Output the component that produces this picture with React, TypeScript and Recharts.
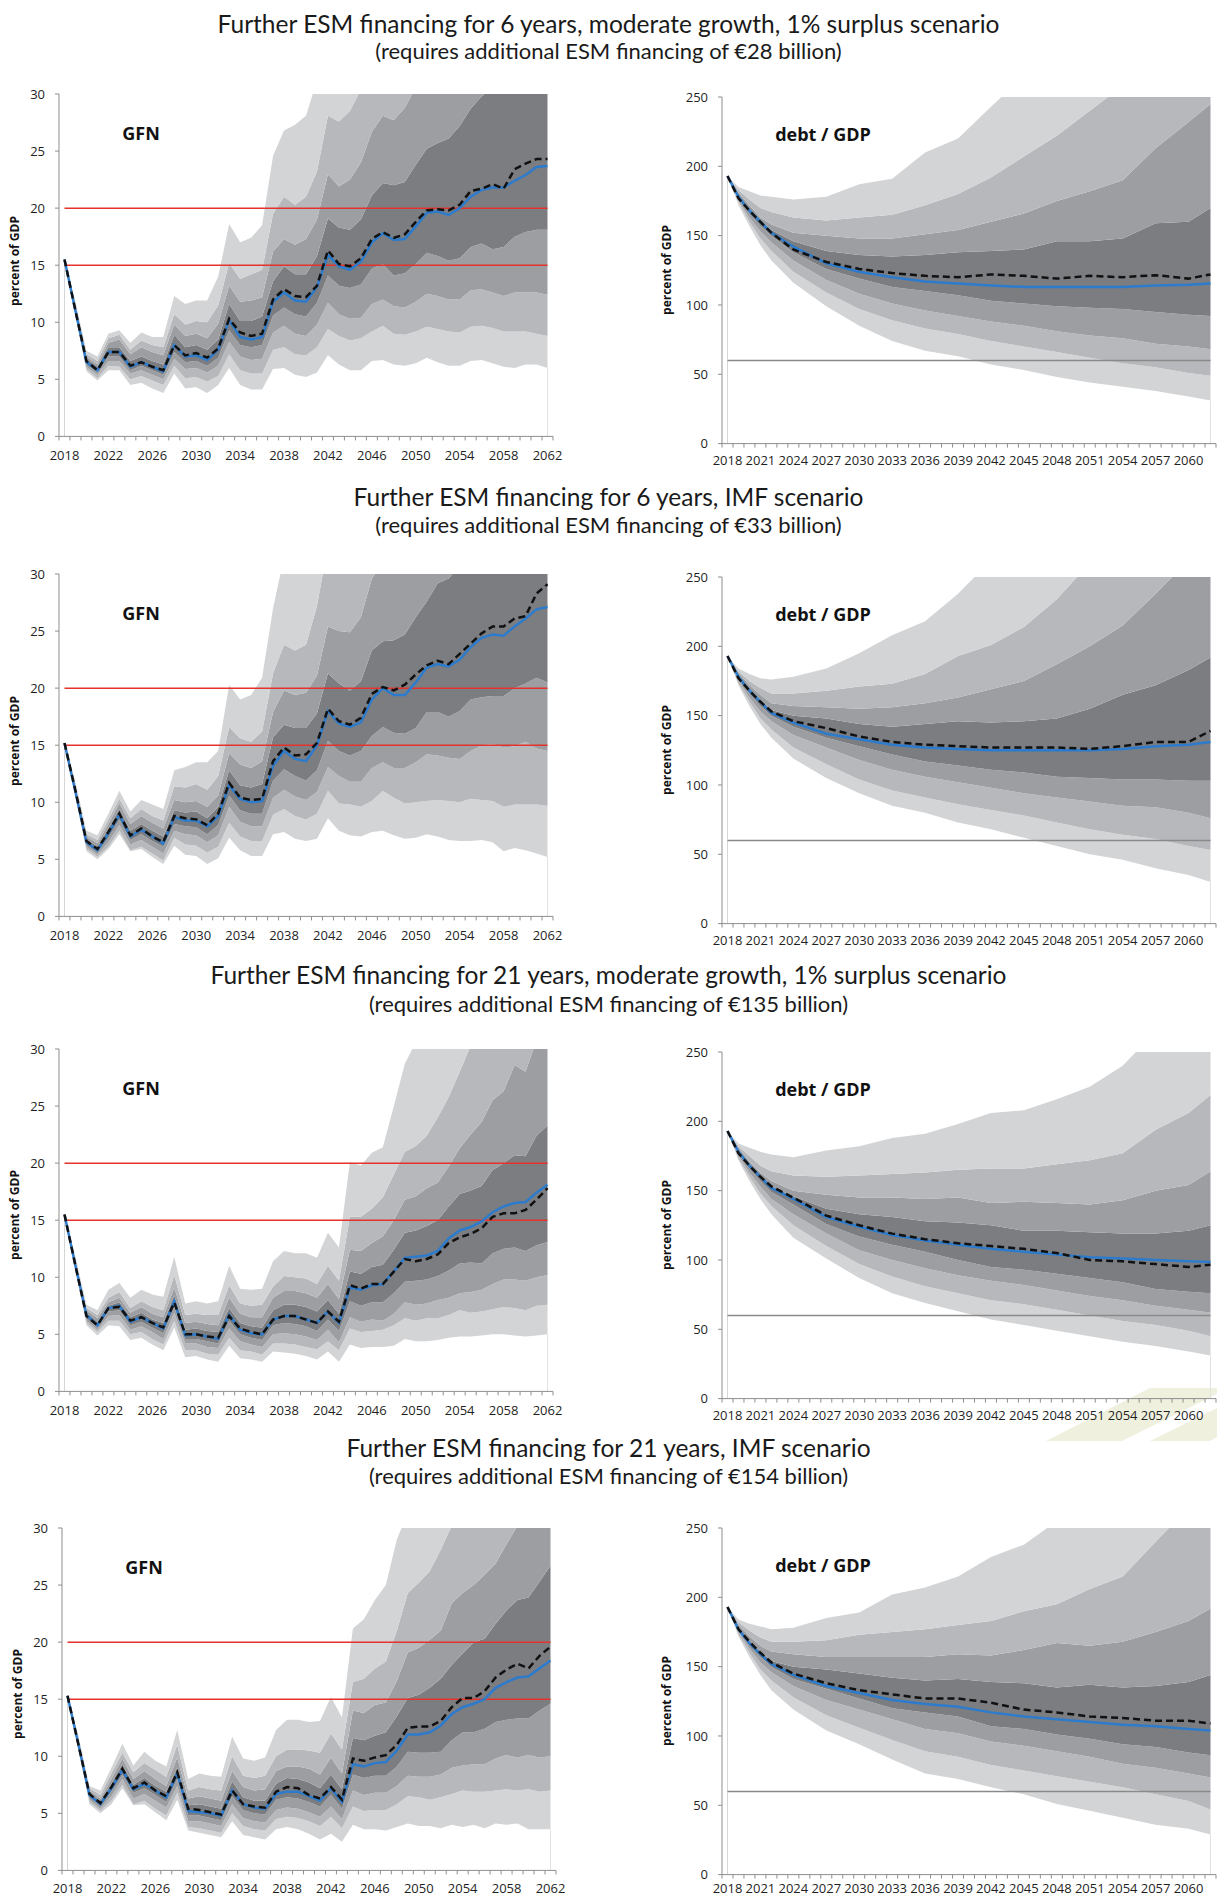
import React from "react";
import { ComposedChart, Area, Line, XAxis, YAxis, ReferenceLine } from "recharts";

const FONT = "'Open Sans', 'DejaVu Sans', sans-serif";
const TITLE_FONT = "Lato, 'Open Sans', sans-serif";
const AXIS = "#8e8e8e";
const TXT = "#1f1f1f";
const SHADES = ["#d3d4d6", "#b6b8bb", "#9c9ea1", "#7c7d81", "#9c9ea1", "#b6b8bb", "#d3d4d6"];
const PLOT_W = 494;

// ---- categories / ticks ----
const gfnYears = [
  2018, 2019, 2020, 2021, 2022, 2023, 2024, 2025, 2026, 2027,
  2028, 2029, 2030, 2031, 2032, 2033, 2034, 2035, 2036, 2037,
  2038, 2039, 2040, 2041, 2042, 2043, 2044, 2045, 2046, 2047,
  2048, 2049, 2050, 2051, 2052, 2053, 2054, 2055, 2056, 2057,
  2058, 2059, 2060, 2061, 2062,
];
const debtYears = [2018, 2019, 2020, 2021, 2022, 2024, 2027, 2030, 2033, 2036, 2039, 2042, 2045, 2048, 2051, 2054, 2057, 2060, 2062];
const gfnXLabels = [2018, 2022, 2026, 2030, 2034, 2038, 2042, 2046, 2050, 2054, 2058, 2062];
const debtXLabels = [2018, 2021, 2024, 2027, 2030, 2033, 2036, 2039, 2042, 2045, 2048, 2051, 2054, 2057, 2060];
const gfnYTicks = [0, 5, 10, 15, 20, 25, 30];
const debtYTicks = [0, 50, 100, 150, 200, 250];
const gfnThresholds = [15, 20];
const debtThresholds = [60];

const titles = [
  "Further ESM financing for 6 years, moderate growth, 1% surplus scenario",
  "Further ESM financing for 6 years, IMF scenario",
  "Further ESM financing for 21 years, moderate growth, 1% surplus scenario",
  "Further ESM financing for 21 years, IMF scenario",
];
const subtitles = [
  "(requires additional ESM financing of €28 billion)",
  "(requires additional ESM financing of €33 billion)",
  "(requires additional ESM financing of €135 billion)",
  "(requires additional ESM financing of €154 billion)",
];

// ---- GFN scenario 1 ----
const g1Med = [15.5, 11.0, 6.5, 5.8, 7.4, 7.4, 6.1, 6.5, 6.1, 5.7, 8.0, 7.0, 7.1, 6.7, 7.6, 10.2, 8.7, 8.5, 8.7, 11.8, 12.6, 11.9, 11.8, 13.1, 15.9, 14.9, 14.6, 15.3, 17.0, 17.8, 17.2, 17.3, 18.4, 19.6, 19.7, 19.4, 20.0, 21.0, 21.6, 21.8, 21.8, 22.4, 22.9, 23.6, 23.7];
const g1Base = [15.5, 11.0, 6.6, 5.8, 7.4, 7.4, 6.2, 6.5, 6.1, 5.8, 8.0, 7.1, 7.3, 6.9, 7.7, 10.3, 9.1, 8.8, 9.0, 12.0, 12.9, 12.3, 12.2, 13.2, 16.3, 15.1, 14.9, 15.6, 17.3, 17.9, 17.4, 17.7, 18.8, 19.8, 19.9, 19.8, 20.3, 21.5, 21.7, 22.1, 21.7, 23.4, 23.9, 24.3, 24.3];
const g1L4 = [15.5, 10.6, 5.7, 4.9, 5.8, 5.8, 4.5, 4.7, 4.2, 3.8, 5.5, 4.2, 4.3, 3.8, 4.5, 6.0, 4.5, 4.1, 4.1, 5.9, 6.0, 5.4, 5.2, 5.6, 7.1, 6.3, 5.8, 5.8, 6.6, 6.7, 6.3, 6.2, 6.4, 6.9, 6.5, 6.2, 6.2, 6.6, 6.7, 6.4, 6.1, 6.0, 6.3, 6.3, 6.0];
const g1L3 = [15.5, 10.8, 5.9, 5.1, 6.2, 6.1, 5.0, 5.3, 4.9, 4.5, 6.2, 5.1, 5.2, 4.8, 5.3, 7.2, 5.8, 5.5, 5.5, 7.6, 7.8, 7.2, 7.1, 7.8, 9.4, 8.8, 8.4, 8.6, 9.2, 9.7, 9.0, 8.9, 9.2, 9.6, 9.4, 9.2, 9.1, 9.6, 9.7, 9.5, 9.2, 9.2, 9.2, 9.0, 8.8];
const g1L2 = [15.5, 10.9, 6.1, 5.4, 6.6, 6.6, 5.5, 5.8, 5.4, 5.0, 6.8, 5.9, 6.0, 5.6, 6.2, 8.3, 7.0, 6.7, 6.8, 9.1, 9.7, 9.0, 8.8, 9.8, 11.7, 10.7, 10.3, 10.4, 11.6, 12.0, 11.4, 11.3, 11.8, 12.5, 12.3, 12.0, 12.0, 12.8, 12.9, 12.6, 12.3, 12.6, 12.6, 12.6, 12.4];
const g1L1 = [15.5, 11.0, 6.3, 5.6, 7.0, 7.0, 5.8, 6.2, 5.8, 5.4, 7.4, 6.5, 6.6, 6.2, 6.9, 9.3, 8.0, 7.8, 8.0, 10.6, 11.3, 10.7, 10.5, 11.7, 14.1, 13.2, 13.0, 13.3, 14.7, 15.1, 14.1, 14.3, 15.1, 16.1, 15.8, 15.4, 15.6, 16.6, 16.9, 16.4, 16.6, 17.5, 17.9, 18.1, 18.1];
const g1U1 = [15.5, 11.1, 6.8, 6.1, 7.8, 7.8, 6.6, 7.0, 6.6, 6.3, 8.9, 7.8, 8.0, 7.6, 8.5, 11.6, 10.1, 10.1, 10.5, 13.6, 14.9, 14.2, 14.2, 15.8, 19.1, 18.3, 18.1, 19.0, 21.1, 22.2, 22.0, 22.3, 23.8, 25.2, 25.7, 26.1, 27.2, 28.7, 29.8, 30.6, 31.4, 32.5, 33.1, 34.0, 34.6];
const g1U2 = [15.5, 11.3, 7.0, 6.3, 8.2, 8.5, 7.2, 7.8, 7.4, 7.1, 9.8, 8.8, 9.0, 8.6, 9.9, 13.2, 11.8, 11.9, 12.2, 16.2, 17.3, 16.8, 17.3, 19.0, 23.0, 21.9, 22.5, 24.0, 26.7, 28.1, 27.7, 28.8, 30.6, 32.4, 33.5, 34.1, 35.6, 37.9, 39.0, 39.8, 40.5, 42.3, 43.0, 44.1, 44.8];
const g1U3 = [15.5, 11.5, 7.2, 6.6, 8.6, 8.9, 7.6, 8.4, 8.0, 7.8, 10.7, 9.8, 10.1, 10.0, 11.5, 15.2, 13.8, 14.2, 14.6, 19.5, 21.0, 20.3, 21.0, 23.2, 28.1, 27.6, 28.5, 30.4, 33.5, 35.2, 35.0, 36.4, 38.5, 40.6, 41.8, 42.5, 44.2, 47.0, 48.3, 49.1, 50.0, 52.1, 53.0, 54.2, 55.0];
const g1U4 = [15.5, 11.8, 7.5, 7.0, 9.0, 9.3, 8.2, 9.1, 8.7, 8.7, 12.3, 11.6, 11.9, 11.9, 14.0, 18.6, 17.0, 17.4, 18.5, 24.6, 26.8, 27.3, 28.1, 31.2, 36.5, 36.0, 37.2, 39.6, 43.5, 45.7, 45.4, 47.2, 49.9, 52.6, 54.2, 55.1, 57.3, 60.9, 62.6, 63.6, 64.8, 67.5, 68.7, 70.2, 71.2];

// ---- GFN scenario 2 ----
const g2Med = [15.2, 10.9, 6.5, 5.8, 7.3, 8.9, 7.0, 7.6, 7.0, 6.4, 8.7, 8.4, 8.4, 7.9, 8.8, 11.5, 10.3, 10.0, 10.1, 13.2, 14.5, 13.8, 13.6, 15.0, 18.0, 16.9, 16.6, 17.0, 19.0, 20.0, 19.4, 19.4, 20.5, 21.8, 22.1, 21.9, 22.5, 23.6, 24.4, 24.7, 24.6, 25.4, 26.1, 26.9, 27.1];
const g2Base = [15.2, 11.0, 6.6, 5.9, 7.4, 9.0, 7.1, 7.7, 7.0, 6.5, 8.8, 8.6, 8.5, 8.0, 9.0, 11.7, 10.4, 10.2, 10.3, 13.6, 14.8, 14.1, 14.2, 15.2, 18.2, 17.1, 16.8, 17.4, 19.5, 20.1, 19.8, 20.3, 21.2, 22.0, 22.4, 22.1, 23.0, 23.9, 24.8, 25.4, 25.4, 26.1, 26.3, 28.3, 29.1];
const g2L4 = [15.2, 10.5, 5.7, 5.0, 5.9, 7.2, 5.7, 5.9, 5.2, 4.6, 6.2, 5.4, 5.3, 4.6, 5.1, 6.9, 5.8, 5.3, 5.3, 7.2, 7.4, 6.8, 6.6, 6.8, 8.6, 7.5, 7.1, 7.0, 7.4, 7.5, 7.1, 6.8, 6.9, 7.2, 7.0, 6.7, 6.6, 6.6, 6.7, 6.5, 5.7, 6.0, 5.8, 5.5, 5.2];
const g2L3 = [15.2, 10.7, 5.9, 5.2, 6.1, 7.5, 5.8, 6.1, 5.5, 4.9, 6.9, 6.3, 6.2, 5.6, 6.1, 8.2, 7.0, 6.6, 6.6, 8.9, 9.4, 8.8, 8.5, 9.0, 11.0, 9.9, 9.8, 9.6, 10.1, 11.0, 10.4, 9.9, 10.0, 10.1, 10.2, 10.1, 10.0, 10.3, 10.2, 10.1, 9.6, 9.8, 9.8, 9.8, 9.7];
const g2L2 = [15.2, 10.8, 6.1, 5.4, 6.5, 8.0, 6.3, 6.7, 6.1, 5.5, 7.5, 7.2, 7.1, 6.5, 7.1, 9.6, 8.3, 7.9, 7.9, 10.4, 11.1, 10.5, 10.2, 10.9, 13.1, 12.3, 11.8, 11.8, 13.0, 13.5, 13.0, 13.0, 13.5, 14.2, 14.1, 13.9, 13.8, 14.5, 15.0, 15.1, 14.8, 14.9, 15.3, 14.7, 14.5];
const g2L1 = [15.2, 10.9, 6.3, 5.6, 6.9, 8.5, 6.7, 7.2, 6.6, 6.1, 8.1, 7.9, 7.8, 7.2, 8.0, 10.6, 9.3, 9.0, 9.0, 11.9, 12.9, 12.3, 11.9, 12.8, 15.4, 14.5, 14.1, 14.5, 15.8, 16.6, 16.1, 16.0, 16.5, 17.9, 17.9, 17.5, 18.0, 19.0, 19.2, 19.3, 19.3, 20.0, 20.4, 20.9, 20.5];
const g2U1 = [15.2, 11.1, 6.8, 6.1, 7.7, 9.4, 7.5, 8.1, 7.5, 7.0, 9.3, 9.1, 9.2, 8.6, 9.6, 12.8, 11.5, 11.3, 11.6, 15.7, 16.8, 16.5, 16.5, 17.8, 21.3, 20.4, 19.8, 20.6, 23.3, 24.1, 24.2, 24.7, 26.2, 27.6, 29.2, 29.6, 30.8, 32.4, 33.5, 34.1, 34.3, 35.6, 36.7, 38.0, 38.6];
const g2U2 = [15.2, 11.3, 7.0, 6.4, 8.1, 9.9, 8.1, 8.8, 8.2, 7.7, 10.2, 10.0, 10.1, 9.6, 10.6, 14.3, 13.3, 13.0, 13.6, 17.9, 19.8, 19.4, 19.6, 21.1, 25.4, 25.0, 24.9, 26.2, 29.6, 31.0, 31.2, 32.0, 34.1, 36.0, 38.1, 38.7, 40.3, 42.4, 43.9, 44.7, 45.0, 46.8, 48.3, 50.0, 50.9];
const g2U3 = [15.2, 11.5, 7.2, 6.7, 8.5, 10.3, 8.6, 9.4, 8.8, 8.4, 11.4, 11.3, 11.6, 11.1, 12.3, 16.6, 15.6, 15.3, 16.2, 21.3, 23.8, 23.3, 23.8, 27.2, 32.5, 32.1, 32.2, 34.0, 38.5, 40.3, 40.7, 41.8, 44.6, 47.1, 49.9, 50.7, 52.9, 55.7, 57.7, 58.8, 59.3, 61.7, 63.7, 66.0, 67.2];
const g2U4 = [15.2, 11.8, 7.5, 7.1, 9.0, 11.0, 9.2, 10.2, 9.8, 9.4, 12.8, 13.1, 13.5, 13.5, 14.5, 20.3, 19.0, 19.4, 20.9, 27.0, 31.5, 31.4, 32.2, 36.6, 43.7, 43.3, 43.6, 46.1, 52.3, 54.8, 55.5, 57.0, 60.9, 64.4, 68.3, 69.5, 72.6, 76.5, 79.3, 80.9, 81.7, 85.1, 87.9, 91.2, 92.9];

// ---- GFN scenario 3 ----
const g3Med = [15.5, 11.0, 6.7, 5.8, 7.3, 7.5, 6.1, 6.5, 6.0, 5.5, 7.9, 4.9, 5.0, 4.8, 4.6, 6.7, 5.4, 5.1, 5.0, 6.3, 6.6, 6.6, 6.3, 6.0, 7.0, 6.0, 9.1, 8.9, 9.3, 9.4, 10.5, 11.7, 11.8, 11.9, 12.3, 13.4, 14.1, 14.4, 14.9, 15.7, 16.2, 16.5, 16.6, 17.4, 18.1];
const g3Base = [15.5, 11.0, 6.6, 5.8, 7.3, 7.4, 6.2, 6.5, 6.0, 5.6, 7.8, 5.0, 5.0, 4.8, 4.7, 6.6, 5.5, 5.2, 5.0, 6.3, 6.6, 6.6, 6.3, 6.0, 7.0, 6.1, 9.3, 9.0, 9.4, 9.4, 10.5, 11.6, 11.4, 11.6, 12.0, 13.0, 13.5, 13.8, 14.3, 15.3, 15.6, 15.6, 15.9, 16.8, 17.8];
const g3L4 = [15.5, 10.6, 5.8, 4.9, 5.8, 5.7, 4.5, 4.7, 4.1, 3.6, 5.6, 3.0, 3.1, 2.8, 2.6, 4.0, 2.9, 2.8, 2.6, 3.5, 3.4, 3.3, 3.1, 2.8, 3.5, 2.6, 4.1, 3.8, 3.9, 3.9, 4.0, 4.6, 4.4, 4.4, 4.5, 4.7, 4.8, 4.8, 4.9, 5.0, 5.0, 4.9, 4.8, 4.9, 5.0];
const g3L3 = [15.5, 10.8, 6.0, 5.2, 6.2, 6.2, 5.0, 5.2, 4.6, 4.1, 6.2, 3.6, 3.6, 3.3, 3.2, 4.7, 3.6, 3.5, 3.2, 4.2, 4.2, 4.1, 3.9, 3.7, 4.4, 3.6, 5.5, 5.2, 5.3, 5.4, 5.8, 6.4, 6.2, 6.4, 6.4, 6.7, 7.1, 6.9, 7.0, 7.2, 7.4, 7.3, 7.1, 7.5, 7.6];
const g3L2 = [15.5, 10.9, 6.2, 5.4, 6.6, 6.7, 5.4, 5.7, 5.2, 4.6, 6.9, 4.2, 4.2, 3.9, 3.8, 5.5, 4.4, 4.1, 3.9, 5.0, 5.1, 5.0, 4.8, 4.5, 5.4, 4.3, 6.5, 6.1, 6.3, 6.2, 6.8, 7.8, 7.6, 7.7, 8.0, 8.2, 8.6, 8.7, 8.9, 9.4, 9.8, 9.8, 9.7, 10.0, 10.2];
const g3L1 = [15.5, 11.0, 6.4, 5.6, 7.0, 7.1, 5.8, 6.1, 5.6, 5.1, 7.4, 4.6, 4.6, 4.4, 4.2, 6.2, 5.0, 4.7, 4.5, 5.8, 6.0, 5.9, 5.7, 5.3, 6.3, 5.3, 7.9, 7.5, 7.8, 7.8, 8.6, 9.6, 9.7, 9.8, 10.1, 10.6, 11.2, 11.3, 11.2, 12.1, 12.5, 12.6, 12.3, 12.8, 13.1];
const g3U1 = [15.5, 11.1, 6.9, 6.1, 7.5, 7.8, 6.5, 6.9, 6.3, 6.0, 8.4, 5.4, 5.5, 5.3, 5.2, 7.3, 6.0, 5.7, 5.6, 7.1, 7.6, 7.6, 7.4, 7.0, 8.0, 6.8, 10.5, 10.3, 10.9, 11.1, 12.4, 13.9, 14.1, 14.5, 15.0, 16.2, 17.3, 17.6, 18.0, 19.4, 20.0, 20.7, 20.6, 22.4, 23.3];
const g3U2 = [15.5, 11.3, 7.1, 6.4, 7.8, 8.2, 6.9, 7.4, 6.8, 6.5, 9.1, 6.0, 6.1, 5.9, 5.8, 8.2, 6.8, 6.5, 6.5, 8.2, 8.8, 8.8, 8.6, 8.2, 9.4, 8.1, 12.4, 12.3, 13.0, 13.6, 15.0, 16.8, 17.1, 17.8, 18.3, 19.7, 21.3, 22.5, 23.6, 25.5, 26.3, 28.6, 28.0, 30.8, 32.5];
const g3U3 = [15.5, 11.5, 7.3, 6.7, 8.2, 8.7, 7.3, 7.9, 7.4, 7.1, 10.2, 6.7, 6.8, 6.7, 6.7, 9.3, 7.7, 7.5, 7.6, 9.2, 10.1, 10.0, 9.9, 9.4, 11.0, 9.7, 15.3, 15.3, 16.0, 17.0, 19.0, 21.0, 21.5, 22.4, 24.0, 25.8, 28.0, 30.3, 31.9, 34.2, 35.6, 38.1, 38.0, 40.8, 42.4];
const g3U4 = [15.5, 11.8, 7.6, 7.1, 8.9, 9.5, 8.2, 8.9, 8.5, 8.3, 11.8, 7.7, 7.9, 7.7, 7.9, 11.0, 9.0, 8.9, 9.0, 11.4, 12.3, 12.1, 12.1, 11.7, 13.9, 12.6, 20.1, 19.8, 20.9, 21.4, 25.0, 28.7, 30.6, 32.4, 35.0, 37.4, 40.3, 43.0, 45.2, 48.0, 49.9, 53.0, 53.1, 56.6, 58.6];

// ---- GFN scenario 4 ----
const g4Med = [15.3, 11.0, 6.6, 5.8, 7.2, 8.8, 7.1, 7.6, 7.0, 6.4, 8.5, 5.2, 5.1, 5.0, 4.8, 7.0, 5.8, 5.5, 5.4, 6.7, 6.9, 6.9, 6.5, 6.1, 7.2, 6.0, 9.3, 9.1, 9.4, 9.5, 10.5, 11.9, 11.9, 12.1, 12.7, 13.7, 14.3, 14.6, 15.0, 16.0, 16.5, 16.9, 17.0, 17.7, 18.4];
const g4Base = [15.3, 11.0, 6.7, 5.9, 7.3, 8.9, 7.2, 7.7, 7.0, 6.5, 8.6, 5.4, 5.3, 5.1, 4.9, 7.0, 5.8, 5.6, 5.5, 6.9, 7.3, 7.2, 6.6, 6.3, 7.3, 6.2, 9.8, 9.6, 9.9, 10.1, 11.0, 12.5, 12.6, 12.6, 13.1, 14.3, 15.1, 15.1, 15.7, 16.9, 17.6, 18.1, 17.7, 18.8, 19.6];
const g4L4 = [15.3, 10.6, 5.8, 5.0, 5.8, 7.2, 5.7, 5.8, 5.1, 4.4, 6.2, 3.5, 3.3, 3.1, 2.9, 4.3, 3.1, 2.9, 2.7, 3.6, 3.8, 3.6, 3.2, 2.7, 3.2, 2.5, 4.0, 3.6, 3.6, 3.5, 3.8, 4.1, 3.9, 3.9, 3.7, 4.0, 3.8, 4.0, 3.7, 4.1, 4.0, 4.1, 3.6, 3.6, 3.6];
const g4L3 = [15.3, 10.8, 6.0, 5.2, 6.1, 7.5, 5.8, 6.1, 5.4, 4.8, 6.8, 3.8, 3.7, 3.5, 3.3, 5.0, 3.9, 3.6, 3.5, 4.5, 4.7, 4.6, 4.3, 3.9, 4.7, 3.7, 5.6, 5.2, 5.3, 5.3, 5.8, 6.5, 6.4, 6.2, 6.4, 6.7, 7.0, 6.9, 6.9, 7.0, 7.1, 7.0, 7.1, 6.9, 7.0];
const g4L2 = [15.3, 10.9, 6.2, 5.4, 6.5, 8.0, 6.3, 6.7, 6.1, 5.5, 7.4, 4.3, 4.3, 4.1, 3.9, 5.8, 4.6, 4.3, 4.2, 5.3, 5.5, 5.4, 5.1, 4.7, 5.6, 4.5, 7.0, 6.6, 6.8, 6.8, 7.4, 8.3, 8.2, 8.2, 8.4, 9.0, 9.2, 9.3, 9.3, 9.8, 10.1, 9.9, 10.1, 9.9, 10.0];
const g4L1 = [15.3, 11.0, 6.4, 5.6, 6.9, 8.4, 6.8, 7.2, 6.6, 6.0, 8.0, 4.8, 4.8, 4.6, 4.4, 6.5, 5.3, 5.0, 4.9, 6.2, 6.4, 6.3, 6.0, 5.6, 6.6, 5.4, 8.4, 8.1, 8.3, 8.3, 9.1, 10.4, 10.3, 10.3, 10.4, 11.4, 12.1, 12.1, 12.4, 13.0, 13.2, 13.3, 13.3, 14.0, 14.6];
const g4U1 = [15.3, 11.1, 6.8, 6.1, 7.6, 9.3, 7.5, 8.1, 7.4, 6.9, 9.0, 5.7, 5.8, 5.6, 5.4, 7.8, 6.4, 6.1, 6.1, 7.6, 8.1, 8.0, 7.7, 7.2, 8.4, 7.1, 11.6, 11.4, 11.8, 12.1, 13.5, 15.1, 15.4, 16.0, 16.8, 18.0, 19.0, 20.0, 20.3, 21.6, 22.8, 23.7, 23.9, 25.3, 26.7];
const g4U2 = [15.3, 11.3, 7.0, 6.3, 8.0, 9.8, 8.0, 8.7, 8.0, 7.4, 9.9, 6.3, 6.5, 6.3, 6.1, 8.7, 7.3, 7.0, 7.1, 8.7, 9.1, 9.1, 8.9, 8.4, 9.9, 8.5, 14.0, 13.8, 14.5, 14.7, 16.6, 19.1, 19.5, 20.2, 21.0, 23.4, 24.3, 25.0, 25.9, 26.9, 28.6, 30.2, 31.0, 32.5, 34.0];
const g4U3 = [15.3, 11.5, 7.2, 6.6, 8.5, 10.3, 8.6, 9.4, 8.8, 8.2, 11.0, 7.0, 7.3, 7.1, 7.0, 10.0, 8.3, 8.1, 8.3, 10.0, 10.6, 10.6, 10.5, 10.3, 12.0, 10.6, 16.5, 16.8, 17.7, 18.3, 21.0, 24.3, 25.2, 26.2, 28.1, 30.2, 32.0, 33.6, 35.2, 37.9, 39.9, 41.6, 42.2, 44.5, 46.7];
const g4U4 = [15.3, 11.8, 7.4, 7.0, 9.0, 11.1, 9.2, 10.4, 9.6, 9.1, 12.3, 8.0, 8.5, 8.3, 8.2, 11.7, 9.8, 9.6, 9.9, 12.3, 13.2, 13.2, 13.0, 13.1, 15.2, 13.4, 21.2, 22.0, 23.7, 25.0, 29.0, 31.3, 32.6, 34.0, 36.5, 39.7, 41.6, 44.2, 45.8, 49.3, 51.9, 54.1, 54.9, 57.9, 60.7];

// ---- debt / GDP scenario 1 ----
const d1Med = [193, 178, 168, 160, 152, 142, 130, 124, 120, 117, 115.5, 114, 113, 113, 113, 113, 114, 114.5, 115.5];
const d1Base = [193, 177, 168, 160, 152, 140, 131, 126, 123, 121, 120, 122, 121, 119, 121, 120, 121.5, 119, 122];
const d1L4 = [193, 172, 157, 143, 132, 116, 99, 85, 74, 67, 63, 57, 53, 48, 44, 41, 38, 34, 31];
const d1L3 = [193, 174, 160, 148, 139, 124, 109, 97, 89, 83, 79, 74, 70, 66, 62, 58, 55, 51, 49];
const d1L2 = [193, 175, 163, 153, 145, 132, 118, 108, 101, 96, 92, 88, 85, 81, 78, 76, 72, 70, 68];
const d1L1 = [193, 176, 166, 157, 150, 138, 126, 119, 113, 110, 107, 103, 101, 99, 98, 97, 95, 93, 92];
const d1U1 = [193, 179, 169, 161, 154, 146, 139, 136, 135, 136, 138, 139, 140, 146, 146, 148, 159, 160, 170];
const d1U2 = [193, 181, 172, 163, 158, 152, 150, 148, 148, 151, 154, 160, 166, 175, 182, 190, 213, 232, 245];
const d1U3 = [193, 183, 176, 170, 167, 163, 161, 163, 165, 172, 180, 192, 207, 222, 240, 258, 280, 300, 315];
const d1U4 = [193, 185, 182, 179, 178, 176, 178, 187, 191, 210, 220, 243, 265, 290, 320, 350, 380, 410, 430];

// ---- debt / GDP scenario 2 ----
const d2Med = [193, 178, 168, 160, 152, 145, 137, 133, 129, 127, 126, 125, 125, 125, 125, 126, 128, 129, 131];
const d2Base = [193, 177, 168, 160, 153, 146, 141, 135, 131, 129, 128, 127, 127, 127, 126, 128, 131, 131, 139];
const d2L4 = [193, 172, 157, 144, 134, 119, 105, 94, 85, 80, 73, 68, 62, 56, 50, 46, 40, 35, 30];
const d2L3 = [193, 173, 160, 148, 140, 127, 115, 104, 96, 91, 86, 82, 78, 73, 68, 64, 61, 56, 53];
const d2L2 = [193, 175, 163, 153, 146, 136, 127, 118, 111, 106, 102, 98, 94, 91, 88, 85, 84, 80, 76];
const d2L1 = [193, 176, 166, 157, 150, 142, 134, 128, 122, 117, 114, 111, 109, 106, 105, 104, 104, 103, 103];
const d2U1 = [193, 179, 169, 161, 154, 150, 148, 144, 142, 144, 146, 145, 146, 148, 155, 165, 172, 183, 192];
const d2U2 = [193, 181, 172, 165, 159, 157, 156, 155, 156, 159, 163, 169, 175, 187, 200, 215, 238, 262, 280];
const d2U3 = [193, 182, 175, 170, 166, 166, 168, 171, 173, 180, 193, 201, 214, 234, 260, 285, 310, 335, 350];
const d2U4 = [193, 184, 180, 177, 176, 178, 184, 195, 208, 218, 238, 262, 285, 310, 335, 360, 385, 410, 430];

// ---- debt / GDP scenario 3 ----
const d3Med = [193, 178, 168, 160, 152, 144, 131, 124, 118, 114, 111, 108, 106, 104, 102, 101, 100, 99, 98.5];
const d3Base = [193, 177, 168, 160, 153, 145, 132, 125, 119, 115, 112, 110, 108, 105, 100, 99, 97, 95, 96.5];
const d3L4 = [193, 172, 157, 144, 133, 116, 101, 87, 76, 69, 63, 57, 53, 49, 45, 41, 38, 34, 31];
const d3L3 = [193, 173, 160, 148, 139, 125, 110, 97, 88, 81, 76, 71, 68, 64, 60, 56, 53, 49, 45];
const d3L2 = [193, 175, 163, 153, 144, 133, 119, 107, 100, 94, 89, 85, 82, 78, 74, 71, 67, 64, 62];
const d3L1 = [193, 176, 166, 157, 149, 140, 126, 117, 111, 106, 100, 95, 93, 90, 87, 84, 79, 77, 76];
const d3U1 = [193, 178, 168, 160, 153, 146, 137, 133, 131, 128, 127, 125, 121, 121, 120, 119, 119, 121, 125];
const d3U2 = [193, 181, 171, 163, 157, 150, 147, 145, 145, 144, 145, 141, 142, 141, 140, 143, 150, 154, 164];
const d3U3 = [193, 182, 175, 168, 164, 161, 160, 161, 162, 163, 165, 166, 166, 169, 172, 177, 194, 206, 219];
const d3U4 = [193, 184, 181, 178, 176, 174, 179, 182, 188, 191, 198, 206, 208, 216, 225, 240, 265, 290, 310];

// ---- debt / GDP scenario 4 ----
const d4Med = [193, 177, 167, 159, 152, 144, 136, 131, 126, 123, 121, 117, 114, 112, 110, 108, 107, 105, 104];
const d4Base = [193, 177, 168, 160, 153, 145, 138, 133, 130, 127, 127, 124, 119, 117, 114, 113, 111, 111, 109];
const d4L4 = [193, 172, 157, 144, 133, 119, 104, 94, 83, 73, 69, 63, 58, 51, 46, 41, 36, 33, 29];
const d4L3 = [193, 173, 160, 148, 140, 128, 115, 106, 97, 89, 85, 79, 75, 71, 67, 63, 58, 53, 47];
const d4L2 = [193, 175, 163, 153, 146, 136, 126, 119, 112, 105, 102, 96, 93, 89, 85, 80, 77, 73, 70];
const d4L1 = [193, 176, 165, 157, 150, 141, 134, 127, 120, 117, 114, 107, 105, 101, 98, 94, 92, 88, 86];
const d4U1 = [193, 178, 168, 161, 154, 150, 148, 145, 142, 140, 141, 139, 138, 135, 137, 135, 136, 139, 144];
const d4U2 = [193, 180, 172, 165, 161, 159, 157, 157, 157, 157, 159, 158, 162, 167, 165, 168, 175, 183, 192];
const d4U3 = [193, 182, 176, 171, 168, 168, 169, 173, 175, 177, 180, 183, 190, 195, 206, 215, 240, 265, 280];
const d4U4 = [193, 184, 181, 179, 177, 178, 185, 189, 202, 207, 215, 229, 238, 255, 275, 300, 325, 350, 370];

type Row = Record<string, number | [number, number]>;

function makeRows(years: number[], bounds: number[][], med: number[], base: number[]): Row[] {
  return years.map((year, i) => {
    const row: Row = { year, med: med[i], base: base[i] };
    for (let k = 0; k < bounds.length - 1; k++) row[`b${k}`] = [bounds[k][i], bounds[k + 1][i]];
    return row;
  });
}

const xDomain: [number, number] = [2017.5, 2062.5];
// tick marks sit between the yearly categories, as in the spreadsheet original
const halfTicks = [...gfnYears.map((y) => y - 0.5), 2062.5];
const HALF_STEP = PLOT_W / 45 / 2;

// draws the year label half a category to the right of each boundary tick
function yearTick(labels: number[], dy: number) {
  return (props: any) => {
    const { x, y, payload } = props;
    const yr = Math.round(payload.value + 0.5);
    if (!labels.includes(yr)) return <g />;
    return (
      <text x={x + HALF_STEP} y={y + dy} textAnchor="middle" fill={TXT} fontSize={13} fontFamily={FONT}>
        {yr}
      </text>
    );
  };
}

interface FanProps {
  left: number;
  top: number;
  width: number;
  yAxisWidth: number;
  rightPad: number;
  plotH: number;
  years: number[];
  bounds: number[][];
  med: number[];
  base: number[];
  yMax: number;
  yTicks: number[];
  xLabels: number[];
  labelDy: number;
  refs: number[];
  refColor: string;
  tag: string;
  tagX: number;
  tagY: number;
  ylabX: number;
  ylabY: number;
}

function FanChart(p: FanProps) {
  const rows = makeRows(p.years, p.bounds, p.med, p.base);
  const first = p.years[0];
  const last = p.years[p.years.length - 1];
  const low = p.bounds[0];
  const height = p.plotH + 40;

  return (
    <div style={{ position: "absolute", left: p.left, top: p.top, width: p.width, height }}>
      <ComposedChart width={p.width} height={height} data={rows} margin={{ top: 10, right: p.rightPad, left: 0, bottom: 0 }}>
        <XAxis
          dataKey="year"
          type="number"
          domain={xDomain}
          allowDataOverflow
          ticks={halfTicks}
          interval={0}
          tickSize={4}
          tickMargin={0}
          height={30}
          stroke={AXIS}
          tick={yearTick(p.xLabels, p.labelDy)}
        />
        <YAxis
          type="number"
          domain={[0, p.yMax]}
          allowDataOverflow
          ticks={p.yTicks}
          interval={0}
          width={p.yAxisWidth}
          tickSize={4}
          tickMargin={10}
          stroke={AXIS}
          tick={{ fill: TXT, fontSize: 13, fontFamily: FONT }}
        />
        {SHADES.map((c, k) => (
          <Area
            key={k}
            type="linear"
            dataKey={`b${k}`}
            fill={c}
            fillOpacity={1}
            stroke="none"
            dot={false}
            activeDot={false}
            isAnimationActive={false}
          />
        ))}
        <ReferenceLine segment={[{ x: first, y: 0 }, { x: first, y: low[0] }]} stroke="#d6d6d6" strokeWidth={1} />
        <ReferenceLine segment={[{ x: last, y: 0 }, { x: last, y: low[low.length - 1] }]} stroke="#e2e2e2" strokeWidth={1} />
        {p.refs.map((v) => (
          <ReferenceLine key={v} segment={[{ x: first, y: v }, { x: last, y: v }]} stroke={p.refColor} strokeWidth={1.5} />
        ))}
        <Line type="linear" dataKey="med" stroke="#2c7bcc" strokeWidth={2.5} dot={false} activeDot={false} isAnimationActive={false} />
        <Line
          type="linear"
          dataKey="base"
          stroke="#111111"
          strokeWidth={2.5}
          strokeDasharray="7 4"
          dot={false}
          activeDot={false}
          isAnimationActive={false}
        />
      </ComposedChart>
      <div
        style={{
          position: "absolute",
          left: p.tagX - 80,
          top: p.tagY - 13,
          width: 160,
          height: 26,
          lineHeight: "26px",
          textAlign: "center",
          fontFamily: FONT,
          fontWeight: 700,
          fontSize: 18,
          color: "#111",
        }}
      >
        {p.tag}
      </div>
      <div
        style={{
          position: "absolute",
          left: p.ylabX - 60,
          top: p.ylabY - 9,
          width: 120,
          height: 18,
          lineHeight: "18px",
          textAlign: "center",
          fontFamily: FONT,
          fontWeight: 700,
          fontSize: 12,
          color: "#111",
          transform: "rotate(-90deg)",
        }}
      >
        percent of GDP
      </div>
    </div>
  );
}

const gfnSets = [
  { bounds: [g1L4, g1L3, g1L2, g1L1, g1U1, g1U2, g1U3, g1U4], med: g1Med, base: g1Base },
  { bounds: [g2L4, g2L3, g2L2, g2L1, g2U1, g2U2, g2U3, g2U4], med: g2Med, base: g2Base },
  { bounds: [g3L4, g3L3, g3L2, g3L1, g3U1, g3U2, g3U3, g3U4], med: g3Med, base: g3Base },
  { bounds: [g4L4, g4L3, g4L2, g4L1, g4U1, g4U2, g4U3, g4U4], med: g4Med, base: g4Base },
];
const debtSets = [
  { bounds: [d1L4, d1L3, d1L2, d1L1, d1U1, d1U2, d1U3, d1U4], med: d1Med, base: d1Base },
  { bounds: [d2L4, d2L3, d2L2, d2L1, d2U1, d2U2, d2U3, d2U4], med: d2Med, base: d2Base },
  { bounds: [d3L4, d3L3, d3L2, d3L1, d3U1, d3U2, d3U3, d3U4], med: d3Med, base: d3Base },
  { bounds: [d4L4, d4L3, d4L2, d4L1, d4U1, d4U2, d4U3, d4U4], med: d4Med, base: d4Base },
];

const layout = [
  { gfnTop: 94.3, debtTop: 96.7, gfnLeft: 0, t1: 24, t2: 51, gfnDy: 19.5, debtDy: 17.5 },
  { gfnTop: 574.3, debtTop: 576.7, gfnLeft: 0, t1: 497, t2: 525, gfnDy: 19.5, debtDy: 17.5 },
  { gfnTop: 1049, debtTop: 1051.7, gfnLeft: 0, t1: 975, t2: 1004, gfnDy: 19.5, debtDy: 17.5 },
  { gfnTop: 1527.7, debtTop: 1527.7, gfnLeft: 3, t1: 1448, t2: 1476, gfnDy: 18.5, debtDy: 14.5 },
];

export default function App() {
  const GFN_H = 342.4;
  const DEBT_H = 346.6;
  return (
    <div style={{ position: "absolute", left: 0, top: 0, width: 1217, height: 1897, overflow: "hidden", background: "#fff" }}>
      {/* faint logo stripes behind the last title */}
      <svg width={1217} height={1897} style={{ position: "absolute", left: 0, top: 0 }}>
        <polygon points="1046,1441 1122,1441 1217,1394 1217,1388 1150,1388" fill="#eff0de" />
        <polygon points="1150,1441 1210,1441 1217,1437 1217,1408" fill="#eff0de" />
      </svg>
      {layout.map((r, i) => (
        <React.Fragment key={i}>
          <div
            style={{
              position: "absolute",
              left: 0,
              width: 1217,
              top: r.t1 - 16,
              height: 32,
              lineHeight: "32px",
              textAlign: "center",
              fontFamily: TITLE_FONT,
              fontSize: 24.5,
              color: "#1a1a1a",
            }}
          >
            {titles[i]}
          </div>
          <div
            style={{
              position: "absolute",
              left: 0,
              width: 1217,
              top: r.t2 - 14,
              height: 28,
              lineHeight: "28px",
              textAlign: "center",
              fontFamily: TITLE_FONT,
              fontSize: 22,
              color: "#1a1a1a",
            }}
          >
            {subtitles[i]}
          </div>
          <FanChart
            left={r.gfnLeft}
            top={r.gfnTop - 10}
            width={575}
            yAxisWidth={59}
            rightPad={22}
            plotH={GFN_H}
            years={gfnYears}
            bounds={gfnSets[i].bounds}
            med={gfnSets[i].med}
            base={gfnSets[i].base}
            yMax={30}
            yTicks={gfnYTicks}
            xLabels={gfnXLabels}
            labelDy={r.gfnDy}
            refs={gfnThresholds}
            refColor="#e5322d"
            tag="GFN"
            tagX={59 + 82}
            tagY={10 + 39}
            ylabX={14.5}
            ylabY={10 + GFN_H / 2 - 4.8}
          />
          <FanChart
            left={640}
            top={r.debtTop - 10}
            width={577}
            yAxisWidth={82}
            rightPad={1}
            plotH={DEBT_H}
            years={debtYears}
            bounds={debtSets[i].bounds}
            med={debtSets[i].med}
            base={debtSets[i].base}
            yMax={250}
            yTicks={debtYTicks}
            xLabels={debtXLabels}
            labelDy={r.debtDy}
            refs={debtThresholds}
            refColor="#8a8a8a"
            tag="debt / GDP"
            tagX={82 + 101}
            tagY={10 + 37.3}
            ylabX={27.4}
            ylabY={10 + DEBT_H / 2}
          />
        </React.Fragment>
      ))}
    </div>
  );
}
